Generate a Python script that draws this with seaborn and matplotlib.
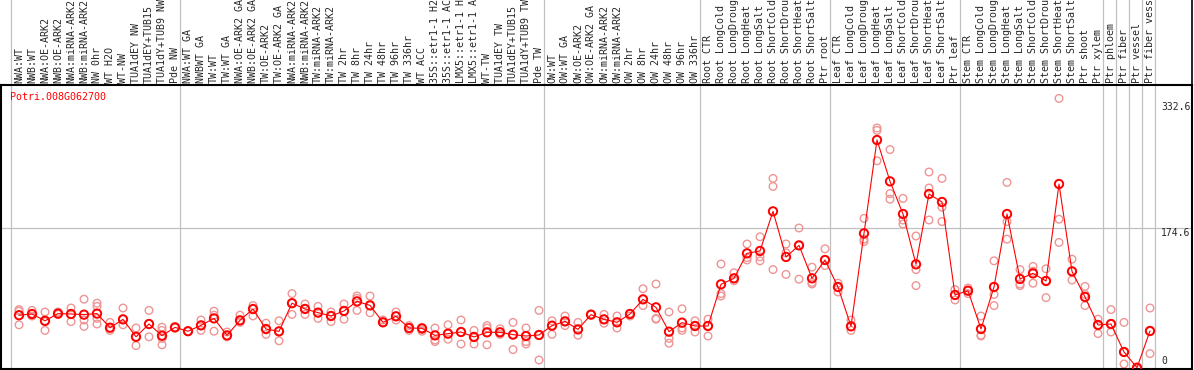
import numpy as np
import pandas as pd
import matplotlib
matplotlib.use("Agg")
import matplotlib.pyplot as plt
import matplotlib.transforms as mtransforms
import seaborn as sns

gene_name = "Potri.008G062700"

sample_labels = [
    "NWA:WT", "NWB:WT", "NWA:OE-ARK2", "NWB:OE-ARK2", "NWA:miRNA-ARK2", "NWB:miRNA-ARK2",
    "NW 0hr", "WT H2O", "WT-NW", "TUA1dEY NW", "TUA1dEY+TUB15", "TUA1dY+TUB9 NW", "Pde NW",
    "NWA:WT GA", "NWBWT GA", "TW:WT", "TW:WT GA", "NWA:OE-ARK2 GA", "NWB:OE-ARK2 GA",
    "TW:OE-ARK2", "TW:OE-ARK2 GA", "NWA:miRNA-ARK2", "NWB:miRNA-ARK2", "TW:miRNA-ARK2",
    "TW:miRNA-ARK2", "TW 2hr", "TW 8hr", "TW 24hr", "TW 48hr", "TW 96hr", "TW 336hr",
    "WT ACC", "35S::etr1-1 H2", "35S::etr1-1 AC", "LMX5::etr1-1 H", "LMX5::etr1-1 A",
    "WT-TW", "TUA1dEY TW", "TUA1dEY+TUB15", "TUA1dY+TUB9 TW", "Pde TW",
    "OW:WT", "OW:WT GA", "OW:OE-ARK2", "OW:OE-ARK2 GA", "OW:miRNA-ARK2", "OW:miRNA-ARK2",
    "OW 2hr", "OW 8hr", "OW 24hr", "OW 48hr", "OW 96hr", "OW 336hr",
    "Root CTR", "Root LongCold", "Root LongDroug", "Root LongHeat", "Root LongSalt",
    "Root ShortCold", "Root ShortDrou", "Root ShortHeat", "Root ShortSalt", "Ptr root",
    "Leaf CTR", "Leaf LongCold", "Leaf LongDroug", "Leaf LongHeat", "Leaf LongSalt",
    "Leaf ShortCold", "Leaf ShortDrou", "Leaf ShortHeat", "Leaf ShortSalt", "Ptr leaf",
    "Stem CTR", "Stem LongCold", "Stem LongDroug", "Stem LongHeat", "Stem LongSalt",
    "Stem ShortCold", "Stem ShortDrou", "Stem ShortHeat", "Stem ShortSalt", "Ptr shoot",
    "Ptr xylem", "Ptr phloem", "Ptr fiber", "Ptr vessel", "Ptr fiber vess",
]

mean_values = [
    66, 67.5, 59, 68, 67.5, 66.7, 68, 50.4, 60.8, 39, 55, 40.4, 50.8,
    46, 53.3, 62, 40.8, 59.6, 73.7, 48.7, 45.8, 81, 73.8, 69.2, 65, 71.3, 83.3, 78.3,
    57.1, 64.6, 50, 49.6, 40.8, 42.9, 45, 38.8, 44.6, 44.6, 41.7, 40, 41.3,
    52.9, 58.3, 48.3, 66.7, 60.8, 57.1, 67.5, 85.8, 75.8, 45.4, 56.7, 52.5,
    52.5, 104.6, 112.1, 143.3, 146.3, 195.8, 138.8, 153.3, 112.1, 135,
    101.3, 52.1, 168.3, 285, 233.3, 192.5, 129.6, 217.5, 207.5, 91.3,
    96.6, 48.8, 101.3, 192.5, 111.3, 118.3, 108.8, 230, 120.8, 88.8, 53.8,
    55, 20, 0.4, 46.3,
]

replicate_values = [
    [73, 71, 54], [72, 68, 65], [70, 58, 47], [70, 68, 67], [75, 67, 58], [86, 60, 52],
    [81, 77, 62, 55], [57, 50, 47], [75, 61, 54], [50, 39, 28], [72, 55, 39],
    [51, 47, 37, 29], [51, 50, 51],
    [46, 46, 46], [60, 53, 47], [71, 66, 46], [45, 39, 40], [66, 57, 59], [78, 65, 74],
    [56, 42, 49], [59, 34, 46], [93, 67, 81], [80, 67, 74], [77, 62, 69], [70, 58, 65],
    [80, 61, 71], [90, 87, 72], [90, 69, 78], [60, 57, 57], [70, 60, 65], [53, 47, 50],
    [48, 46, 50], [50, 35, 33, 41], [54, 36, 43], [60, 30, 45], [47, 30, 39],
    [53, 50, 29], [49, 42, 45], [57, 23, 42], [50, 33, 30, 40], [72, 10, 41],
    [59, 42, 53], [65, 53, 58], [57, 41, 48], [67, 67, 67], [67, 56, 61], [65, 50, 57],
    [65, 68, 68], [99, 78, 86], [105, 62, 61], [70, 37, 31], [74, 50, 47], [59, 45, 53],
    [61, 40, 53], [130, 93, 90], [119, 109, 112], [155, 138, 135], [164, 139, 134],
    [237, 227, 123], [155, 117, 144], [175, 111, 153], [126, 107, 105], [149, 128, 135],
    [106, 95, 101], [60, 47, 52], [187, 161, 158], [300, 297, 259], [273, 218, 211],
    [212, 185, 180], [165, 123, 103], [245, 225, 185], [237, 201, 183], [98, 85, 91],
    [100, 93, 97], [65, 41, 40], [134, 92, 78], [232, 183, 161], [123, 105, 103],
    [127, 121, 106], [124, 88, 109], [337, 186, 157], [136, 110, 121], [102, 92, 78],
    [61, 43, 54], [73, 45, 55], [57, 5, 20], [0, -1, 0], [75, 18, 46],
]

# number of samples before each grey separator line
group_breaks = [0, 13, 41, 53, 63, 73, 84, 85, 86, 87, 88]

# scale labels shown on the right
scale_labels = ["332.6", "174.6", "0"]
scale_values = [332.6, 174.6, 0]

# Build tables
positions = np.arange(len(sample_labels))
means_df = pd.DataFrame({"pos": positions, "value": mean_values})
rep_rows = []
for i, reps in enumerate(replicate_values):
    for r in reps:
        rep_rows.append({"pos": i, "value": r})
reps_df = pd.DataFrame(rep_rows)

sns.set_style("white")
mono = ["DejaVu Sans Mono"]
plt.rcParams["font.family"] = mono

fig = plt.figure(figsize=(11.94, 3.70), dpi=100)
W, H = 1194, 370
ax = fig.add_axes([1 / W, 1 / H, 1191 / W, 284 / H])

x_lo = -18 / 13
x_hi = (1192 - 19) / 13
ax.set_xlim(x_lo, x_hi)
ax.set_ylim(-1.25, 353.75)

# grid
head_extent = 1 + 85 / 284
for k in group_breaks:
    ax.axvline(k - 0.615, ymin=0, ymax=head_extent, clip_on=False,
               color="#c0c0c0", lw=0.9, zorder=0)
ax.axhline(174.6, color="#c0c0c0", lw=0.9, zorder=0)

# replicates, mean line, mean markers
sns.scatterplot(data=reps_df, x="pos", y="value", ax=ax, s=30,
                facecolor="none", edgecolor="#ef9595", linewidth=1.0, zorder=2)
sns.lineplot(data=means_df, x="pos", y="value", ax=ax, color="red", lw=0.8, zorder=3)
sns.scatterplot(data=means_df, x="pos", y="value", ax=ax, s=36,
                facecolor="none", edgecolor="red", linewidth=1.4, zorder=4)

ax.set_xlabel("")
ax.set_ylabel("")
ax.set_xticks([])
ax.set_yticks([])
for sp in ax.spines.values():
    sp.set_visible(True)
    sp.set_color("black")
    sp.set_linewidth(1.5)

# rotated sample names above the plot
trans = mtransforms.blended_transform_factory(ax.transData, ax.transAxes)
for i, lab in enumerate(sample_labels):
    ax.text(i, 1 + 2 / 284, lab, transform=trans, rotation=90,
            ha="center", va="bottom", fontsize=7.2, family=mono, clip_on=False)

# right border in header
ax.axvline(x_hi, ymin=1, ymax=head_extent, clip_on=False, color="black", lw=1.2)

# gene name
ax.text(9 / 1191, 1 - 12 / 284, gene_name, transform=ax.transAxes, color="red",
        fontsize=7.2, family=mono, ha="left", va="center")

# scale labels
lab_x = (1161 - 19) / 13
for lab, val in zip(scale_labels, scale_values):
    if val == 0:
        ax.text(lab_x, 2, lab, ha="left", va="bottom", fontsize=7.0, family=mono)
    else:
        ax.text(lab_x, val, lab, ha="left", va="top", fontsize=7.0, family=mono)

fig.savefig("out.png", dpi=100)
